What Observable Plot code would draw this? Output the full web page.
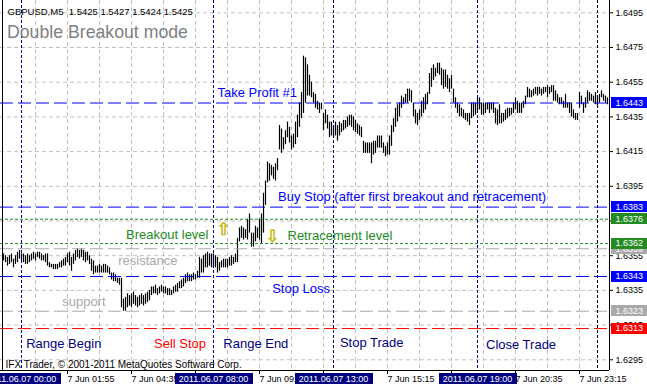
<!DOCTYPE html>
<html><head><meta charset="utf-8">
<script src="https://cdn.jsdelivr.net/npm/d3@7"></script>
<script src="https://cdn.jsdelivr.net/npm/@observablehq/plot@0.6"></script>
<style>html,body{margin:0;padding:0;background:#fff;overflow:hidden}</style>
</head><body><div id="chart"></div>
<script>
// ---------- data (GBPUSD M5, 7 Jun 2011) ----------
const firstBar = -9; // bar index relative to 2011.06.07 00:00 (5-minute bars)
const barHigh = [
1.6356,1.6355,1.6354,1.6355,1.6356,1.6353,1.6355,1.6357,1.6358,1.6356,
1.6356,1.6355,1.6356,1.6355,1.6356,1.6357,1.6356,1.6357,1.6357,1.6356,
1.6355,1.6356,1.6356,1.6351,1.6350,1.6350,1.6350,1.6350,1.6351,1.6352,
1.6353,1.6354,1.6356,1.6357,1.6354,1.6356,1.6358,1.6359,1.6358,1.6359,
1.6358,1.6357,1.6357,1.6355,1.6353,1.6352,1.6349,1.6349,1.6350,1.6349,
1.6350,1.6350,1.6349,1.6348,1.6345,1.6345,1.6344,1.6342,1.6342,1.6342,
1.6330,1.6331,1.6333,1.6332,1.6333,1.6334,1.6332,1.6331,1.6332,1.6333,
1.6332,1.6333,1.6334,1.6335,1.6337,1.6337,1.6338,1.6336,1.6337,1.6338,
1.6337,1.6337,1.6336,1.6336,1.6335,1.6337,1.6338,1.6339,1.6340,1.6341,
1.6342,1.6344,1.6345,1.6344,1.6344,1.6345,1.6344,1.6346,1.6354,1.6353,
1.6355,1.6356,1.6357,1.6356,1.6356,1.6356,1.6355,1.6354,1.6351,1.6352,
1.6353,1.6353,1.6353,1.6354,1.6355,1.6354,1.6356,1.6365,1.6371,1.6372,
1.6371,1.6370,1.6376,1.6379,1.6368,1.6368,1.6372,1.6371,1.6376,1.6379,
1.6391,1.6398,1.6409,1.6408,1.6407,1.6406,1.6408,1.6411,1.6430,1.6428,
1.6423,1.6427,1.6432,1.6429,1.6424,1.6425,1.6432,1.6436,1.6443,1.6449,
1.6470,1.6469,1.6465,1.6459,1.6455,1.6449,1.6448,1.6444,1.6443,1.6443,
1.6437,1.6439,1.6436,1.6432,1.6432,1.6430,1.6432,1.6430,1.6432,1.6431,
1.6433,1.6433,1.6435,1.6436,1.6436,1.6435,1.6433,1.6431,1.6430,1.6429,
1.6421,1.6420,1.6420,1.6420,1.6420,1.6421,1.6421,1.6424,1.6424,1.6424,
1.6420,1.6418,1.6420,1.6424,1.6430,1.6434,1.6440,1.6442,1.6443,1.6447,
1.6446,1.6448,1.6451,1.6451,1.6450,1.6443,1.6439,1.6437,1.6439,1.6444,
1.6446,1.6448,1.6449,1.6460,1.6463,1.6465,1.6463,1.6466,1.6466,1.6463,
1.6462,1.6462,1.6459,1.6457,1.6459,1.6451,1.6446,1.6443,1.6442,1.6440,
1.6439,1.6437,1.6437,1.6437,1.6443,1.6443,1.6443,1.6446,1.6446,1.6443,
1.6443,1.6443,1.6443,1.6443,1.6443,1.6443,1.6440,1.6439,1.6442,1.6437,
1.6437,1.6439,1.6440,1.6440,1.6440,1.6443,1.6446,1.6444,1.6443,1.6443,
1.6444,1.6447,1.6452,1.6451,1.6450,1.6451,1.6452,1.6452,1.6452,1.6451,
1.6452,1.6452,1.6453,1.6452,1.6453,1.6453,1.6450,1.6448,1.6446,1.6446,
1.6444,1.6448,1.6443,1.6443,1.6443,1.6439,1.6437,1.6437,1.6449,1.6447,
1.6443,1.6446,1.6450,1.6449,1.6448,1.6447,1.6449,1.6447,1.6448,1.6450,
1.6448,1.6447,1.6446];
const barLow = [
1.6352,1.6351,1.6349,1.6350,1.6351,1.6348,1.6350,1.6351,1.6353,1.6352,
1.6351,1.6350,1.6350,1.6351,1.6352,1.6353,1.6352,1.6354,1.6353,1.6352,
1.6352,1.6351,1.6349,1.6348,1.6348,1.6347,1.6347,1.6347,1.6348,1.6348,
1.6349,1.6349,1.6351,1.6349,1.6346,1.6350,1.6352,1.6354,1.6353,1.6354,
1.6352,1.6351,1.6352,1.6350,1.6346,1.6344,1.6345,1.6345,1.6345,1.6345,
1.6345,1.6345,1.6345,1.6344,1.6341,1.6340,1.6340,1.6339,1.6338,1.6325,
1.6323,1.6323,1.6325,1.6326,1.6325,1.6327,1.6326,1.6325,1.6326,1.6327,
1.6326,1.6327,1.6328,1.6329,1.6332,1.6333,1.6333,1.6332,1.6333,1.6334,
1.6333,1.6333,1.6332,1.6332,1.6332,1.6333,1.6334,1.6334,1.6336,1.6336,
1.6337,1.6339,1.6340,1.6340,1.6340,1.6341,1.6341,1.6342,1.6342,1.6345,
1.6345,1.6348,1.6348,1.6349,1.6348,1.6348,1.6348,1.6345,1.6346,1.6348,
1.6348,1.6348,1.6348,1.6349,1.6349,1.6350,1.6351,1.6351,1.6363,1.6365,
1.6364,1.6365,1.6364,1.6368,1.6360,1.6360,1.6363,1.6365,1.6364,1.6362,
1.6368,1.6384,1.6397,1.6398,1.6401,1.6399,1.6398,1.6404,1.6416,1.6414,
1.6416,1.6419,1.6423,1.6420,1.6416,1.6417,1.6419,1.6423,1.6429,1.6434,
1.6437,1.6443,1.6447,1.6447,1.6446,1.6443,1.6440,1.6439,1.6437,1.6439,
1.6427,1.6431,1.6428,1.6423,1.6424,1.6423,1.6424,1.6421,1.6424,1.6426,
1.6427,1.6428,1.6429,1.6430,1.6429,1.6427,1.6426,1.6425,1.6424,1.6423,
1.6414,1.6414,1.6414,1.6414,1.6408,1.6413,1.6414,1.6417,1.6417,1.6417,
1.6414,1.6412,1.6413,1.6413,1.6418,1.6426,1.6429,1.6432,1.6435,1.6440,
1.6442,1.6443,1.6443,1.6444,1.6443,1.6435,1.6431,1.6430,1.6433,1.6435,
1.6437,1.6439,1.6442,1.6448,1.6452,1.6456,1.6458,1.6460,1.6459,1.6453,
1.6451,1.6452,1.6451,1.6449,1.6451,1.6443,1.6440,1.6437,1.6435,1.6435,
1.6434,1.6433,1.6432,1.6430,1.6434,1.6435,1.6436,1.6437,1.6439,1.6436,
1.6436,1.6437,1.6439,1.6437,1.6439,1.6437,1.6431,1.6430,1.6431,1.6431,
1.6432,1.6433,1.6434,1.6435,1.6436,1.6437,1.6439,1.6437,1.6437,1.6437,
1.6440,1.6442,1.6446,1.6446,1.6446,1.6447,1.6448,1.6447,1.6448,1.6447,
1.6448,1.6449,1.6446,1.6448,1.6449,1.6444,1.6444,1.6443,1.6442,1.6442,
1.6440,1.6440,1.6440,1.6437,1.6435,1.6434,1.6433,1.6433,1.6440,1.6442,
1.6437,1.6440,1.6443,1.6444,1.6444,1.6443,1.6442,1.6440,1.6443,1.6446,
1.6444,1.6443,1.6442];

const priceTicks = [1.6495,1.6475,1.6455,1.6435,1.6415,1.6395,1.6375,1.6355,1.6335,1.6315,1.6295];
// 1.6375 is fully covered by the 1.6376 value box in the reference
const priceTickLabels = ["1.6495","1.6475","1.6455","1.6435","1.6415","1.6395","","1.6355","1.6335","1.6315","1.6295"];
const gridBars = [7,23,39,55,71,87,103,119,135,151,167,183,199,215,231,247,263,279];
const timeTickBars = [23,55,87,119,151,183,215,247,279];
// labels of 07:15, 12:35 and 17:55 are fully covered by the event time boxes in the reference
const timeTickLabels = ["7 Jun 01:55","7 Jun 04:35","","7 Jun 09:55","","7 Jun 15:15","","7 Jun 20:35","7 Jun 23:15"];
const eventBars = [0,96,156,228];
const eventLabels = ["2011.06.07 00:00","2011.06.07 08:00","2011.06.07 13:00","2011.06.07 19:00"];
const daySeparatorBars = [288];

// horizontal levels (drawing order matters for the value boxes)
const levelPrices = [1.6443,1.6383,1.6376,1.6359,1.6362,1.6343,1.6323,1.6313];
const levelKinds  = ["blue","blue","green","gray","green","blue","gray","red"];

const labelTexts  = ["Take Profit #1","Buy Stop (after first breakout and retracement)","Breakout level","Retracement level","resistance","support","Stop Loss","Range Begin","Sell Stop","Range End","Stop Trade","Close Trade"];
const labelBars   = [98,128.25,52.3,133,48.35,20.35,125.35,2.35,66.25,100.9,159.2,232.25];
const labelPrices = [1.64462,1.63868,1.63649,1.63643,1.63495,1.63260,1.63334,1.63019,1.63019,1.63019,1.63023,1.63011];
const labelKinds  = ["blue","blue","green","green","gray","gray","blue","navy","red","navy","navy","navy"];

const arrowGlyphs = ["\u21E7","\u21E9"];
const arrowBars   = [101,125.5];
const arrowPrices = [1.63698,1.63661];

const headerText = "GBPUSD,M5  1.5425 1.5427 1.5424 1.5425";
const titleText = "Double Breakout mode";
const copyrightText = "IFX Trader, \u00A9 2001-2011 MetaQuotes Software Corp.";

// ---------- styles ----------
const colors = {blue:"#0000ff", green:"#228b22", gray:"#a9a9a9", red:"#ff0000", navy:"#000080"};
const lineDash = {blue:"13,5", gray:"13,5", red:"13,5", green:"3,2"};

const bars = barHigh.map((h,k) => ({i: firstBar + k, high: h, low: barLow[k]}));
const levels = levelPrices.map((p,k) => ({price: p, kind: levelKinds[k]}));
const labels = labelTexts.map((t,k) => ({text: t, bar: labelBars[k], price: labelPrices[k], color: colors[labelKinds[k]]}));
const arrows = arrowGlyphs.map((g,k) => ({glyph: g, bar: arrowBars[k], price: arrowPrices[k]}));

const xDomain = [-10.5, 294];
const yDomain = [1.628883, 1.650209];

function valueBoxes(index, scales, values, dimensions) {
  const {width, marginRight, height, marginBottom} = dimensions;
  const right = width - marginRight;
  const g = d3.create("svg:g").attr("font-size", 9).attr("font-family", "'Liberation Sans', Arial, sans-serif");
  levels.forEach(lv => {
    const cy = scales.y(lv.price);
    g.append("rect").attr("x", right + 2).attr("y", Math.round(cy - 5.5)).attr("width", width - right - 2).attr("height", 11).attr("fill", colors[lv.kind]);
    g.append("text").attr("x", right + 6.5).attr("y", cy + 3.3).attr("text-anchor", "start").attr("fill", "#fff").text(lv.price.toFixed(4));
  });
  const top = height - marginBottom;
  eventBars.forEach((b,k) => {
    const cx = scales.x(b) + 0.5;
    g.append("rect").attr("x", Math.round(cx - 39)).attr("y", top + 3).attr("width", 78).attr("height", 11).attr("fill", colors.navy);
    g.append("text").attr("x", cx).attr("y", top + 12).attr("text-anchor", "middle").attr("fill", "#fff").text(eventLabels[k]);
  });
  return g.node();
}

const levelMarks = ["blue","gray","red","green"].map(kind =>
  Plot.ruleY(levels.filter(d => d.kind === kind), {y: "price", stroke: colors[kind], strokeWidth: 1, strokeDasharray: lineDash[kind]}));

const chart = Plot.plot({
  width: 647, height: 386,
  marginTop: 0, marginRight: 38, marginBottom: 16, marginLeft: 0,
  x: {domain: xDomain},
  y: {domain: yDomain},
  color: {type: "identity"},
  style: {fontFamily: "'Liberation Sans', Arial, sans-serif", fontSize: "9px", background: "#fff", overflow: "visible"},
  marks: [
    Plot.ruleY(priceTicks, {stroke: "#c0c0c0", strokeDasharray: "4,3"}),
    Plot.ruleX(gridBars, {stroke: "#c0c0c0", strokeDasharray: "4,3"}),
    Plot.ruleX(bars, {x: "i", y1: "low", y2: "high", stroke: "#000", strokeWidth: 1.2}),
    ...levelMarks,
    Plot.ruleX(eventBars, {stroke: colors.navy, strokeDasharray: "3,2"}),
    Plot.ruleX(daySeparatorBars, {stroke: "#000", strokeDasharray: "3,2"}),
    Plot.ruleX([xDomain[0] + 1], {stroke: "#000"}),
    Plot.ruleX([xDomain[1]], {stroke: "#000"}),
    Plot.ruleY([yDomain[0]], {stroke: "#000"}),
    Plot.axisY(priceTicks, {anchor: "right", tickSize: 3, tickPadding: 3, tickFormat: d => priceTickLabels[priceTicks.indexOf(d)], label: null, fontSize: 9}),
    Plot.axisX(timeTickBars, {anchor: "bottom", tickSize: 4, tickPadding: 1.5, tickFormat: d => timeTickLabels[timeTickBars.indexOf(d)], textAnchor: "start", label: null, fontSize: 9}),
    Plot.text(labels, {x: "bar", y: "price", text: "text", fill: "color", textAnchor: "start", lineAnchor: "bottom", fontSize: 13}),
    Plot.text(arrows, {x: "bar", y: "price", text: "glyph", fill: "#d2bc00", stroke: "#b8a400", strokeWidth: 0.5, textAnchor: "middle", lineAnchor: "middle", fontSize: 17, fontFamily: "DejaVu Sans"}),
    Plot.text([headerText], {frameAnchor: "top-left", dx: 7, dy: 14, lineAnchor: "bottom", textAnchor: "start", fill: "#000", fontSize: 9.5}),
    Plot.text([titleText], {frameAnchor: "top-left", dx: 6.5, dy: 37, lineAnchor: "bottom", textAnchor: "start", fill: "#808080", fontSize: 17.7}),
    Plot.text([copyrightText], {frameAnchor: "top-left", dx: 5, dy: 367.5, lineAnchor: "bottom", textAnchor: "start", fill: "#000", fontSize: 10}),
    valueBoxes
  ]
});
document.getElementById("chart").appendChild(chart);
</script>
</body></html>
